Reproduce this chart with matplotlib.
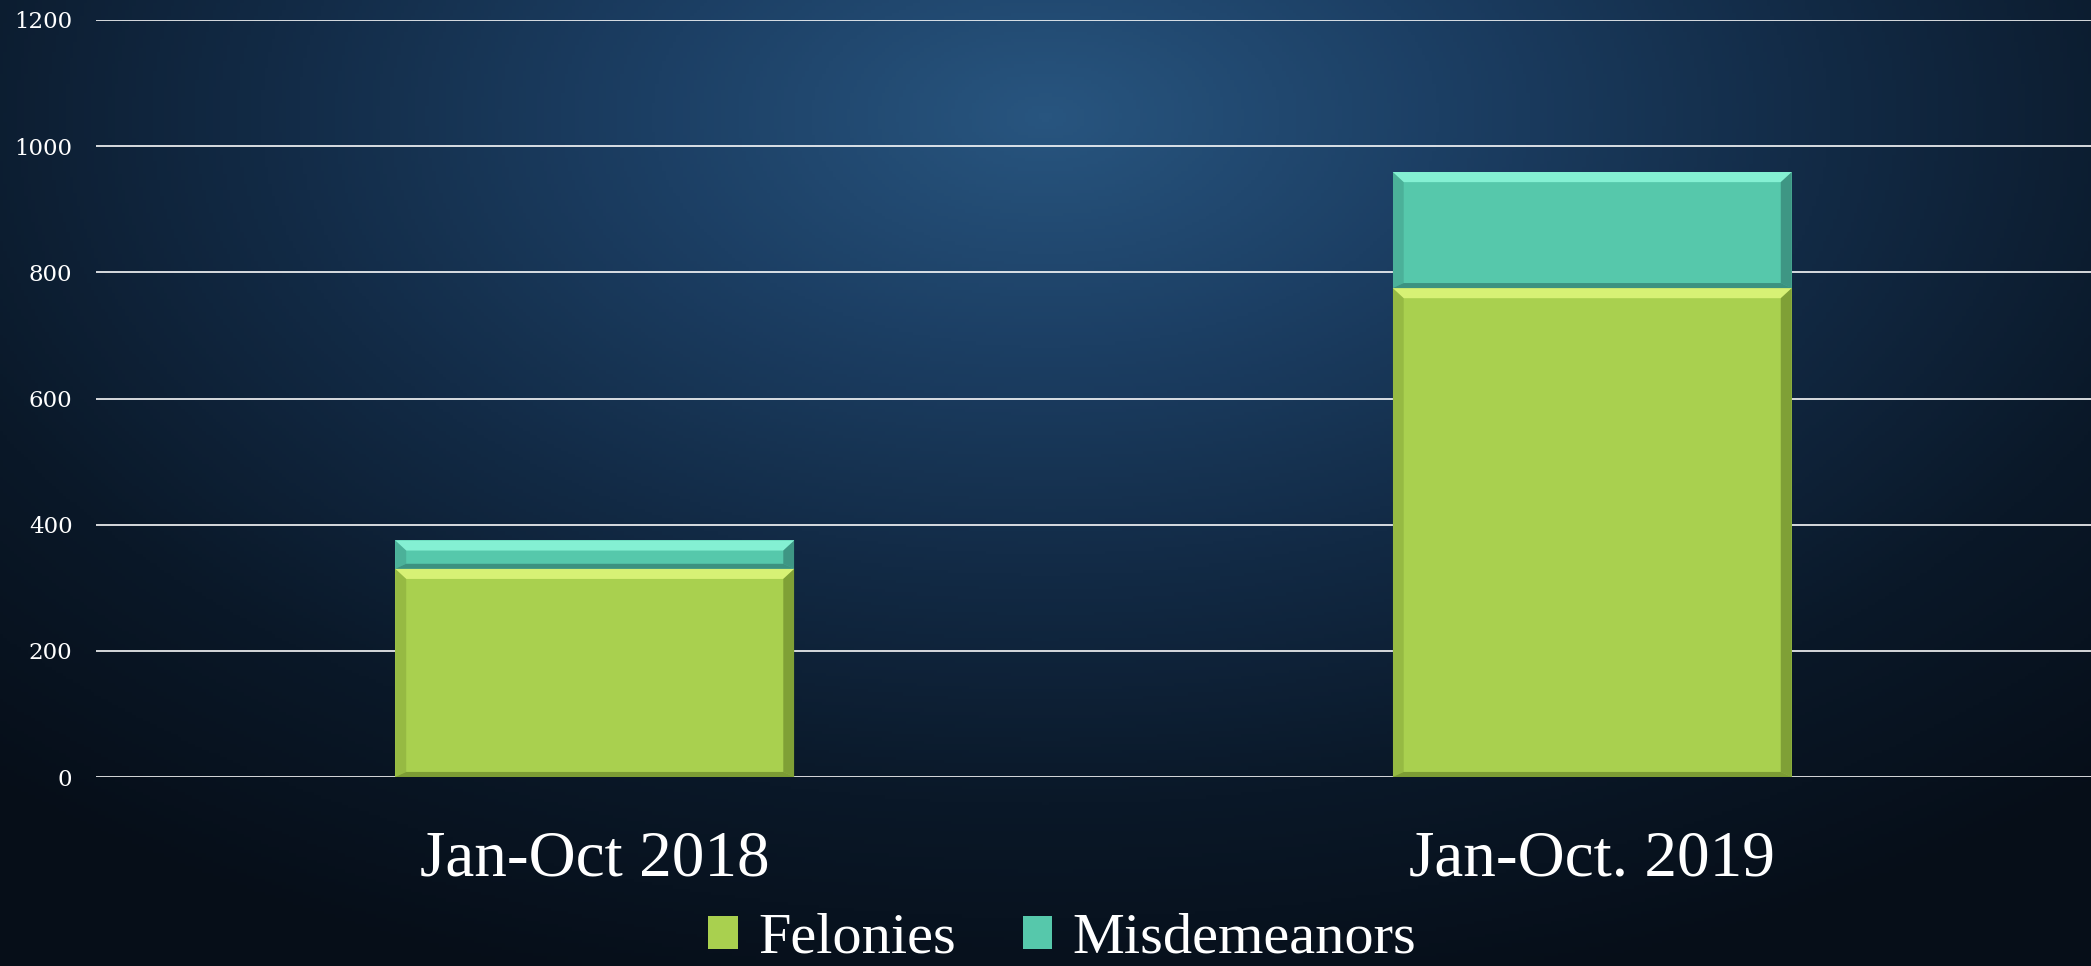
import matplotlib
matplotlib.use("Agg")
import matplotlib.pyplot as plt
import matplotlib.patches as patches
from matplotlib.colors import LinearSegmentedColormap
import numpy as np

# Chart data
categories = ["Jan-Oct 2018", "Jan-Oct. 2019"]
felonies = [330, 775]
misdemeanors = [45, 184]
y_ticks = [0, 200, 400, 600, 800, 1000, 1200]

FEL_COLOR = "#A9D04F"
MIS_COLOR = "#56C8AB"


def add_bevel(ax, bar, light, dark, bx=0.011, by=16):
    """Draw a simple bevel around a bar rectangle."""
    x0, y0 = bar.get_x(), bar.get_y()
    x1, y1 = x0 + bar.get_width(), y0 + bar.get_height()
    top = [(x0, y1), (x1, y1), (x1 - bx, y1 - by), (x0 + bx, y1 - by)]
    bottom = [(x0, y0), (x1, y0), (x1 - bx, y0 + by * 0.5), (x0 + bx, y0 + by * 0.5)]
    left = [(x0, y0), (x0, y1), (x0 + bx, y1 - by), (x0 + bx, y0 + by * 0.5)]
    right = [(x1, y0), (x1, y1), (x1 - bx, y1 - by), (x1 - bx, y0 + by * 0.5)]
    for pts, col, a in [(top, light, 0.9), (bottom, dark, 0.6),
                        (left, dark, 0.25), (right, dark, 0.55)]:
        ax.add_patch(patches.Polygon(pts, closed=True, facecolor=col,
                                     edgecolor="none", alpha=a, zorder=4))


fig = plt.figure(figsize=(20.91, 9.66), dpi=100)

# Background radial gradient
bg = fig.add_axes([0, 0, 1, 1], zorder=-10)
gx, gy = np.meshgrid(np.linspace(0, 1, 600), np.linspace(0, 1, 300))
r = np.sqrt(((gx - 0.5) / 0.75) ** 2 + ((gy - 0.12) / 0.95) ** 2)
cmap_bg = LinearSegmentedColormap.from_list(
    "bg", ["#28557f", "#1c3f64", "#122a45", "#0a1828", "#060e18"])
bg.imshow(np.clip(r, 0, 1), cmap=cmap_bg, aspect="auto",
          extent=[0, 1, 1, 0], origin="upper")
bg.axis("off")

ax = fig.add_axes([96 / 2091, 1 - 777 / 966, 1 - 96 / 2091, (777 - 20) / 966])
ax.set_facecolor("none")

x = np.arange(len(categories))
width = 0.4
fel_bars = ax.bar(x, felonies, width, color=FEL_COLOR, zorder=3, label="Felonies")
mis_bars = ax.bar(x, misdemeanors, width, bottom=felonies, color=MIS_COLOR,
                  zorder=3, label="Misdemeanors")

for b in fel_bars:
    add_bevel(ax, b, "#DDF57A", "#5E7A22")
for b in mis_bars:
    add_bevel(ax, b, "#8AF5D8", "#2B6E64")

ax.set_xlim(-0.5, 1.5)
ax.set_ylim(0, 1200)
ax.set_yticks(y_ticks)
ax.yaxis.grid(True, color="white", linewidth=1.3, alpha=0.9, zorder=0)
ax.set_axisbelow(True)
for s in ax.spines.values():
    s.set_visible(False)

ax.set_xticks(x)
ax.set_xticklabels(categories, fontsize=47, family="Liberation Serif", color="white")
ax.tick_params(axis="x", length=0, pad=38)
ax.tick_params(axis="y", length=0, pad=17, labelsize=16.5, labelcolor="white")
for lab in ax.get_yticklabels():
    lab.set_family("DejaVu Serif")

leg = fig.legend(loc="center", bbox_to_anchor=(0.508, 0.028), ncol=2,
                 frameon=False, prop={"family": "Liberation Serif", "size": 42},
                 handlelength=0.5, handleheight=0.5, handletextpad=0.35,
                 columnspacing=1.15)
for t in leg.get_texts():
    t.set_color("white")

fig.savefig("out.png", dpi=100)
